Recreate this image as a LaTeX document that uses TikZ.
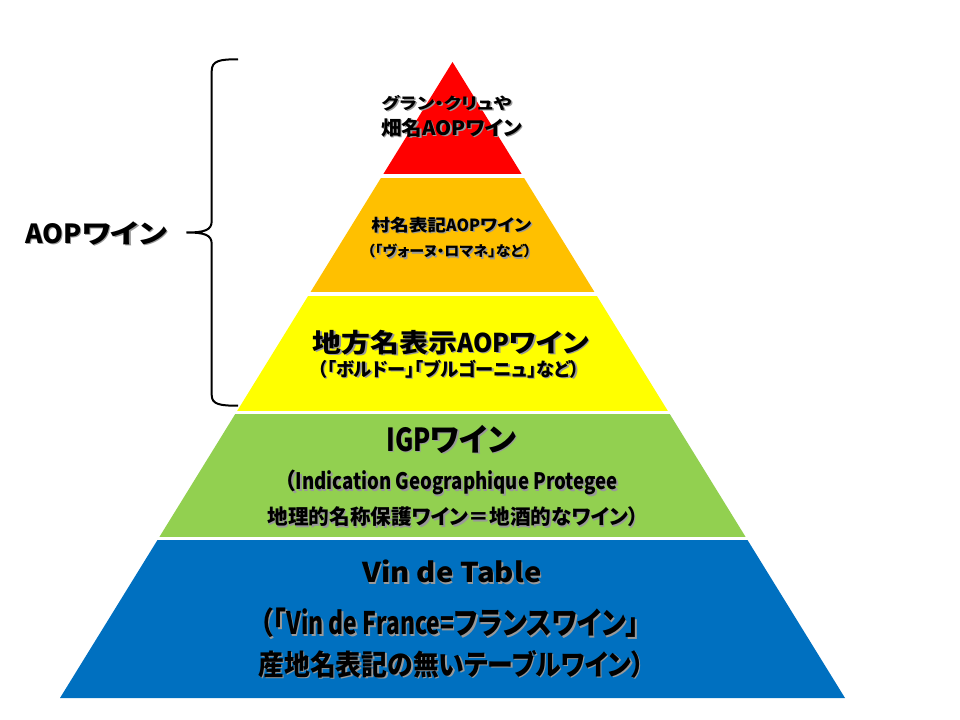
\documentclass[tikz,border=0pt]{standalone}
\usepackage{fontspec}
\setmainfont{Noto Sans CJK JP}[BoldFont={* Black},RawFeature=+palt]
\usetikzlibrary{calc}
\definecolor{pyRed}{HTML}{FF0000}
\definecolor{pyOrange}{HTML}{FFC000}
\definecolor{pyYellow}{HTML}{FFFF00}
\definecolor{pyGreen}{HTML}{92D050}
\definecolor{pyBlue}{HTML}{0070C0}
\newdimen\pxu \pxu=0.75pt
\newcommand\shd[1]{\leavevmode\rlap{\smash{\hspace{1.1pt}\raisebox{-1.1pt}{\textcolor{black!40}{#1}}}}#1}
\newcommand\fit[3]{\shd{\resizebox*{#1\pxu}{#2\pxu}{\fontsize{20pt}{20pt}\selectfont #3}}}
\newcommand\sx[2]{\scalebox{#1}[1]{#2}}
\begin{document}
\begin{tikzpicture}[x=0.75pt,y=-0.75pt,
  lbl/.style={inner sep=0pt,font=\bfseries,text=black},
  sep/.style={white,line width=2.4pt}]
\useasboundingbox (0,0) rectangle (960,720);
\fill[white] (0,0) rectangle (960,720);
\coordinate (A) at (452.5,62);
\coordinate (L) at (60,698);
\coordinate (R) at (845,698);
% layers
\fill[pyRed] (A) -- ($(A)!0.1792!(L)$) -- ($(A)!0.1792!(R)$) -- cycle;
\fill[pyOrange] ($(A)!0.1792!(L)$) -- ($(A)!0.3648!(L)$) -- ($(A)!0.3648!(R)$) -- ($(A)!0.1792!(R)$) -- cycle;
\fill[pyYellow] ($(A)!0.3648!(L)$) -- ($(A)!0.5511!(L)$) -- ($(A)!0.5511!(R)$) -- ($(A)!0.3648!(R)$) -- cycle;
\fill[pyGreen] ($(A)!0.5511!(L)$) -- ($(A)!0.7492!(L)$) -- ($(A)!0.7492!(R)$) -- ($(A)!0.5511!(R)$) -- cycle;
\fill[pyBlue] ($(A)!0.7492!(L)$) -- (L) -- (R) -- ($(A)!0.7492!(R)$) -- cycle;
% separators
\foreach \t in {0.1792,0.3648,0.5511,0.7492}
  \draw[sep] ($(A)!\t!(L)+(-4,0)$) -- ($(A)!\t!(R)+(4,0)$);
% brace
\draw[black,line width=1.5pt] (238,59.3) .. controls (220,59.3) and (211.7,60.5) .. (211.7,71)
  -- (211.7,221) .. controls (211.7,230) and (205,232.5) .. (186.5,232.5)
  .. controls (205,232.5) and (211.7,235) .. (211.7,244)
  -- (211.7,395) .. controls (211.7,404.5) and (220,405.7) .. (238,405.7);
% texts
\node[lbl] (aop) at (96.3,233.3) {\fit{142}{23.5}{\sx{0.85}{AOP}ワイン}};
\node[lbl] (r1) at (446.5,103) {\fit{130}{15.7}{グラン・クリュや}};
\node[lbl] (r2) at (451.7,127.8) {\fit{141}{19}{畑名AOPワイン}};
\node[lbl] (o1) at (451.3,224.7) {\fit{160}{16}{村名表記\sx{0.85}{AOP}ワイン}};
\node[lbl] (o2) at (449.5,251.3) {\fit{164}{14}{（「ヴォーヌ・ロマネ」など）}};
\node[lbl] (y1) at (450.8,342.2) {\fit{276}{25}{地方名表示\sx{0.85}{AOP}ワイン}};
\node[lbl] (y2) at (448.8,368.8) {\fit{262}{18.3}{（「ボルドー」「ブルゴーニュ」など）}};
\node[lbl] (g1) at (451.3,439.2) {\fit{130}{28.3}{\sx{0.8}{IGP}ワイン}};
\node[lbl] (g2) at (451.3,482.5) {\fit{333}{25}{（\sx{0.85}{Indication Geographique Protegee}}};
\node[lbl] (g3) at (453,516.7) {\fit{371}{20}{地理的名称保護ワイン＝地酒的なワイン）}};
\node[lbl] (b1) at (452,571.5) {\fit{179}{23}{Vin de Table}};
\node[lbl] (b2) at (449.5,623) {\fit{380}{30}{（「\sx{0.85}{Vin de France=}フランスワイン」}};
\node[lbl] (b3) at (451.5,664) {\fit{386}{28}{産地名表記の無いテーブルワイン）}};
\end{tikzpicture}
\end{document}
